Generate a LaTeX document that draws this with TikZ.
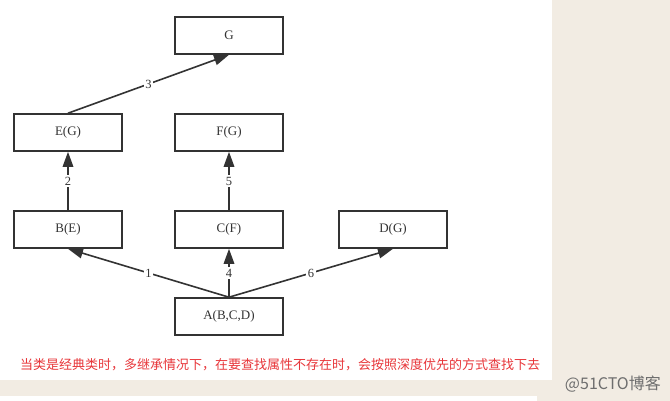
\documentclass[tikz,border=0pt]{standalone}
\usepackage{fontspec}
\setmainfont{Liberation Serif}
\newfontfamily\cjk{Noto Sans CJK SC}
\usetikzlibrary{arrows.meta}
\definecolor{beige}{HTML}{F2ECE3}
\definecolor{boxline}{HTML}{333333}
\definecolor{redtxt}{HTML}{E8363A}
\definecolor{wm}{HTML}{6E6E6E}
\tikzset{
  cls/.style={draw=boxline, line width=1.6pt, minimum width=108pt, minimum height=37pt, inner sep=0pt, font=\fontsize{13}{15}\selectfont, text=boxline},
  edge/.style={draw=boxline, line width=1.6pt, -{Triangle[length=15pt,width=10.5pt]}},
  lbl/.style={fill=white, inner sep=1.5pt, font=\fontsize{12.5}{13}\selectfont, text=boxline}
}
\begin{document}
\begin{tikzpicture}[x=1pt,y=-1pt]
\useasboundingbox (0,0) rectangle (670,401);
\fill[beige] (0,0) rectangle (670,401);
\fill[white] (0,0) rectangle (552,380);
\fill[white] (0,396) rectangle (537,401);
\node[cls] (G) at (229,35.5) {G};
\node[cls] (E) at (68,132.5) {E(G)};
\node[cls] (F) at (229,132.5) {F(G)};
\node[cls] (B) at (68,229.5) {B(E)};
\node[cls] (C) at (229,229.5) {C(F)};
\node[cls] (D) at (393,229.5) {D(G)};
\node[cls] (A) at (229,316.5) {A(B,C,D)};
\draw[edge] (E.north) -- node[lbl] {3} (G.south);
\draw[edge] (B.north) -- node[lbl] {2} (E.south);
\draw[edge] (C.north) -- node[lbl] {5} (F.south);
\draw[edge] (A.north) -- node[lbl] {1} (B.south);
\draw[edge] (A.north) -- node[lbl] {4} (C.south);
\draw[edge] (A.north) -- node[lbl] {6} (D.south);
\node[anchor=west, inner sep=0pt, text=redtxt, font=\cjk\fontsize{13}{15}\selectfont] (note) at (20,365) {当类是经典类时，多继承情况下，在要查找属性不存在时，会按照深度优先的方式查找下去};
\node[anchor=east, inner sep=0pt, text=wm, font=\cjk\fontsize{16}{18}\selectfont] (mark) at (661,384) {@51CTO博客};
\end{tikzpicture}
\end{document}
